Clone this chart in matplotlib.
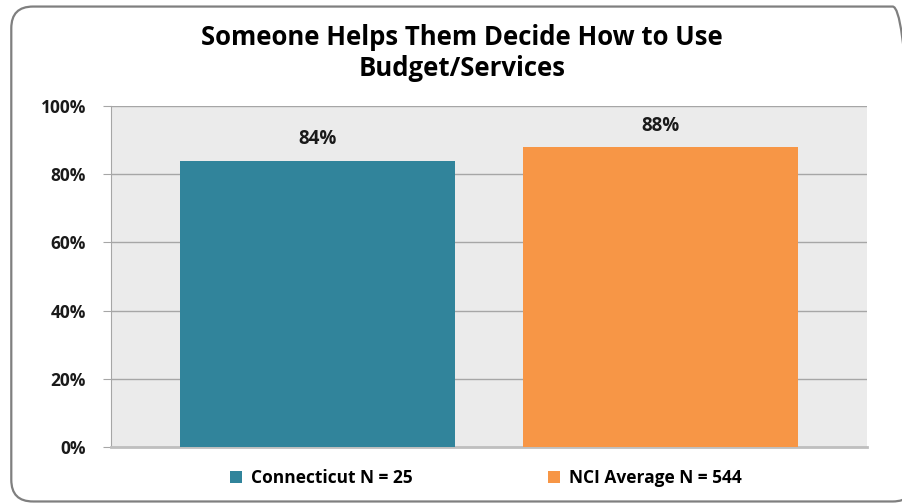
import matplotlib.pyplot as plt
from matplotlib.patches import FancyBboxPatch

categories = ['Connecticut N = 25', 'NCI Average N = 544']
values = [84, 88]
labels = ['84%', '88%']
colors = ['#31849B', '#F79646']
yticks = [0, 20, 40, 60, 80, 100]

plt.rcParams['font.family'] = ['Open Sans', 'DejaVu Sans']
plt.rcParams['font.weight'] = 'bold'

fig = plt.figure(figsize=(9.03, 5.04), dpi=100)
ax = fig.add_axes([0.1229, 0.1131, 0.8372, 0.6766])

# rounded outer frame, runs off the right edge like the source image
frame = FancyBboxPatch((0.0125, 0.005), 1.0, 0.982, boxstyle='round,pad=0,rounding_size=0.024',
                       transform=fig.transFigure, fill=False, edgecolor='#7f7f7f', linewidth=1.6,
                       mutation_aspect=903 / 504)
fig.patches.append(frame)

ax.set_facecolor('#EBEBEB')
bars = ax.bar(range(len(values)), values, width=0.8, color=colors, label=categories, zorder=3)
for b, lab in zip(bars, labels):
    ax.text(b.get_x() + b.get_width() / 2, b.get_height() + 3.3, lab, ha='center', va='bottom',
            fontsize=13.5, fontweight='bold', color='#1a1a1a')

ax.set_xlim(-0.6, 1.6)
ax.set_ylim(0, 100)
ax.set_yticks(yticks)
ax.set_yticklabels([f'{t}%' for t in yticks], fontsize=12.5, fontweight='bold', color='#1a1a1a')
ax.set_xticks([])
ax.grid(axis='y', color='#a6a6a6', linewidth=1, zorder=1)
ax.tick_params(axis='y', length=6, color='#a6a6a6', pad=12)
for s in ['top', 'right']:
    ax.spines[s].set_visible(False)
ax.spines['left'].set_color('#a6a6a6')
ax.spines['bottom'].set_color('#bfbfbf')
ax.spines['bottom'].set_linewidth(2)

fig.text(0.512, 0.925, 'Someone Helps Them Decide How to Use', ha='center', va='center',
         fontsize=18.5, fontweight='bold')
fig.text(0.512, 0.864, 'Budget/Services', ha='center', va='center', fontsize=18.5, fontweight='bold')

fig.legend(handles=list(bars), labels=categories, loc='center', bbox_to_anchor=(0.538, 0.052),
           ncol=2, frameon=False, handlelength=0.7, handleheight=0.7, handletextpad=0.5,
           columnspacing=7.8, prop={'size': 12.5, 'weight': 'bold'})

fig.savefig('out.png', dpi=100)
